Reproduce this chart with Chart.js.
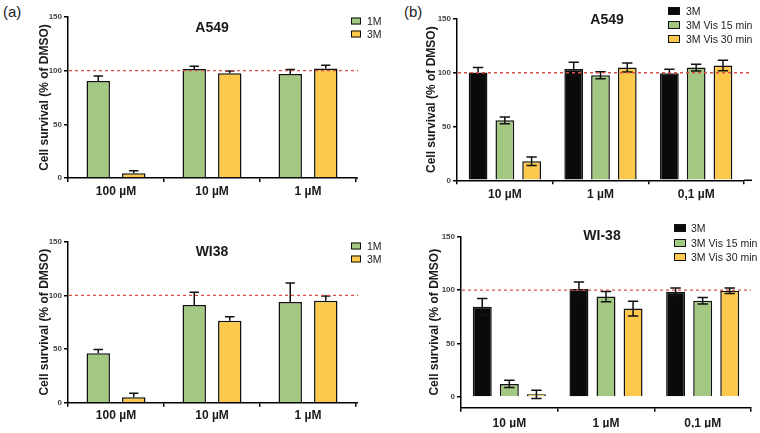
<!DOCTYPE html>
<html>
<head>
<meta charset="utf-8">
<script src="https://cdn.jsdelivr.net/npm/chart.js@4.4.1/dist/chart.umd.min.js"></script>
<style>
  html,body{margin:0;padding:0;background:#fff;}
  body{width:760px;height:433px;position:relative;overflow:hidden;font-family:"Liberation Sans",Arial,sans-serif;color:#222;}
  .panel{position:absolute;overflow:hidden;}
  .panel canvas{position:absolute;left:0;top:0;}
  .t{position:absolute;transform:translate(-50%,-50%);font-weight:bold;font-size:14px;white-space:nowrap;color:#1a1a1a;}
  .lab{position:absolute;transform:translateY(-50%);font-size:15px;color:#222;}
  .lg{position:absolute;transform:translateY(-50%);font-size:10.5px;white-space:nowrap;color:#222;}
  .box{position:absolute;transform:translateY(-50%);box-sizing:border-box;border:1.5px solid #111;}
</style>
</head>
<body>
<div class="lab" style="left:3px;top:11px;">(a)</div>
<div class="lab" style="left:404px;top:11px;">(b)</div>

<div class="panel" id="pA1" style="left:0;top:0;width:384px;height:210px;">
  <canvas id="cA1" width="380" height="210"></canvas>
  <div class="t" style="left:212px;top:27px;">A549</div>
</div>
<div class="panel" id="pA2" style="left:0;top:210px;width:384px;height:223px;">
  <canvas id="cA2" width="380" height="223"></canvas>
  <div class="t" style="left:212px;top:41px;">WI38</div>
</div>
<div class="panel" id="pB1" style="left:380px;top:0;width:380px;height:210px;">
  <canvas id="cB1" width="380" height="210"></canvas>
  <div class="t" style="left:227px;top:19px;">A549</div>
</div>
<div class="panel" id="pB2" style="left:380px;top:210px;width:380px;height:223px;">
  <canvas id="cB2" width="380" height="223"></canvas>
  <div class="t" style="left:222px;top:25px;">WI-38</div>
</div>

<script>
// ---------- DATA ----------
const catsA = ["100 \u00B5M", "10 \u00B5M", "1 \u00B5M"];
const catsB = ["10 \u00B5M", "1 \u00B5M", "0,1 \u00B5M"];
const seriesA = ["1M", "3M"];
const seriesB = ["3M", "3M Vis 15 min", "3M Vis 30 min"];
const yTitle = "Cell survival (% of DMSO)";
const yTicks = [0, 50, 100, 150];
const refValue = 100;

// Panel (a) A549
const a549_1M = [90.4, 101.6, 97.0];
const a549_1M_sd = [4.6, 2.4, 4.0];
const a549_3M = [4.4, 97.5, 102.0];
const a549_3M_sd = [2.4, 2.2, 3.0];
// Panel (a) WI38
const wi38_1M = [46.0, 91.0, 93.8];
const wi38_1M_sd = [3.6, 12.0, 17.7];
const wi38_3M = [5.0, 76.4, 95.0];
const wi38_3M_sd = [3.7, 3.6, 4.4];
// Panel (b) A549
const b_a549_3M = [100.2, 103.6, 99.5];
const b_a549_3M_sd = [4.6, 6.2, 3.8];
const b_a549_v15 = [55.8, 97.7, 104.8];
const b_a549_v15_sd = [3.1, 3.3, 3.1];
const b_a549_v30 = [17.7, 104.8, 106.7];
const b_a549_v30_sd = [4.0, 4.2, 4.9];
// Panel (b) WI-38
const b_wi38_3M = [84.4, 101.0, 98.4];
const b_wi38_3M_sd = [7.8, 6.5, 3.6];
const b_wi38_v15 = [12.2, 94.0, 90.0];
const b_wi38_v15_sd = [3.4, 4.8, 3.0];
const b_wi38_v30 = [2.5, 82.8, 99.4];
const b_wi38_v30_sd = [3.8, 6.9, 2.5];

// ---------- STYLE ----------
const GREEN = "#a3c882", YELLOW = "#fcc94d", BLACK = "#0a0a0a";
const FONT = "'Liberation Sans', Arial, sans-serif";

const errPlugin = {
  id: "errbars",
  afterDatasetsDraw(chart, args, o) {
    const ctx = chart.ctx, ys = chart.scales.y, ca = chart.chartArea;
    chart.data.datasets.forEach((ds, i) => {
      const meta = chart.getDatasetMeta(i);
      meta.data.forEach((bar, j) => {
        const v = ds.data[j], e = ds.err[j];
        const x = bar.x;
        const yt = ys.getPixelForValue(v + e);
        const yb = o.both ? ys.getPixelForValue(v - e) : bar.y;
        const cw = bar.width * o.cap;
        ctx.save();
        ctx.strokeStyle = "#111"; ctx.lineWidth = 1.5;
        ctx.beginPath();
        ctx.moveTo(x, yb); ctx.lineTo(x, yt);
        ctx.moveTo(x - cw / 2, yt); ctx.lineTo(x + cw / 2, yt);
        if (o.both) { ctx.moveTo(x - cw / 2, yb); ctx.lineTo(x + cw / 2, yb); }
        ctx.stroke();
        ctx.restore();
      });
    });
    const yr = ys.getPixelForValue(refValue);
    ctx.save();
    ctx.setLineDash([3, 3]);
    ctx.strokeStyle = "#d8504c"; ctx.lineWidth = 1.3;
    ctx.beginPath(); ctx.moveTo(ca.left + 1, yr); ctx.lineTo(ca.right + o.ext, yr); ctx.stroke();
    ctx.restore();
    if (o.ext > 0) {
      ctx.save(); ctx.strokeStyle = "#000"; ctx.lineWidth = 1.5;
      ctx.beginPath(); ctx.moveTo(ca.right, ca.bottom); ctx.lineTo(ca.right + o.ext, ca.bottom); ctx.stroke();
      ctx.restore();
    }
  }
};

function makePanel(id, cfg) {
  const datasets = cfg.series.map((s, i) => ({
    label: s,
    data: cfg.values[i],
    err: cfg.errs[i],
    backgroundColor: cfg.colors[i],
    borderColor: "#111",
    borderWidth: 1.5,
    categoryPercentage: cfg.catPct,
    barPercentage: cfg.barPct
  }));
  new Chart(document.getElementById(id), {
    type: "bar",
    data: { labels: cfg.labels, datasets },
    plugins: [errPlugin],
    options: {
      responsive: false,
      animation: false,
      layout: { padding: cfg.pad },
      plugins: {
        legend: { display: false },
        tooltip: { enabled: false },
        errbars: { both: cfg.both, cap: cfg.cap, ext: cfg.ext }
      },
      scales: {
        x: {
          grid: { display: true, drawOnChartArea: false, drawTicks: true, tickLength: 4, color: "#000", lineWidth: 1.5 },
          border: { display: true, color: "#000", width: 1.5 },
          ticks: { font: { family: FONT, size: 12, weight: "bold" }, color: "#1a1a1a", padding: cfg.xPad, maxRotation: 0 },
          afterFit: s => { s.height = 20; }
        },
        y: {
          min: cfg.yMin, max: 150,
          afterBuildTicks: s => { s.ticks = yTicks.map(v => ({ value: v })); },
          grid: { display: true, drawOnChartArea: false, drawTicks: true, tickLength: 4, color: "#000", lineWidth: 1.5 },
          border: { display: true, color: "#000", width: 1.5 },
          ticks: { font: { family: FONT, size: 8, weight: "bold" }, color: "#444", padding: 2 },
          title: { display: true, text: yTitle, font: { family: FONT, size: 12, weight: "bold" }, color: "#1a1a1a", padding: 0 },
          afterFit: s => { s.width = cfg.yW; }
        }
      }
    }
  });
}

makePanel("cA1", {
  labels: catsA, series: seriesA, colors: [GREEN, YELLOW],
  values: [a549_1M, a549_3M], errs: [a549_1M_sd, a549_3M_sd],
  catPct: 0.74, barPct: 0.66, both: false, cap: 0.4, ext: 2, yMin: 0,
  pad: { left: 37, right: 24, top: 17, bottom: 12 }, yW: 31, xPad: 2
});
makePanel("cA2", {
  labels: catsA, series: seriesA, colors: [GREEN, YELLOW],
  values: [wi38_1M, wi38_3M], errs: [wi38_1M_sd, wi38_3M_sd],
  catPct: 0.74, barPct: 0.66, both: false, cap: 0.4, ext: 2, yMin: 0,
  pad: { left: 37, right: 24, top: 31.7, bottom: 10.3 }, yW: 31, xPad: 2
});
makePanel("cB1", {
  labels: catsB, series: seriesB, colors: [BLACK, GREEN, YELLOW],
  values: [b_a549_3M, b_a549_v15, b_a549_v30], errs: [b_a549_3M_sd, b_a549_v15_sd, b_a549_v30_sd],
  catPct: 0.84, barPct: 0.70, both: true, cap: 0.55, ext: 8, yMin: 0,
  pad: { left: 44, right: 16, top: 19, bottom: 9.7 }, yW: 33, xPad: 3
});
makePanel("cB2", {
  labels: catsB, series: seriesB, colors: [BLACK, GREEN, YELLOW],
  values: [b_wi38_3M, b_wi38_v15, b_wi38_v30], errs: [b_wi38_3M_sd, b_wi38_v15_sd, b_wi38_v30_sd],
  catPct: 0.84, barPct: 0.70, both: true, cap: 0.55, ext: 0, yMin: -10,
  pad: { left: 47, right: 9, top: 26.7, bottom: 5.3 }, yW: 34, xPad: 5
});

// ---------- LEGENDS (HTML) ----------
function legend(panelId, names, colors, boxLeft, textLeft, rows, bw, bh) {
  const p = document.getElementById(panelId);
  names.forEach((n, i) => {
    const b = document.createElement("div");
    b.className = "box";
    b.style.cssText = `left:${boxLeft}px;top:${rows[i]}px;width:${bw}px;height:${bh}px;background:${colors[i]};`;
    p.appendChild(b);
    const t = document.createElement("div");
    t.className = "lg";
    t.style.cssText = `left:${textLeft}px;top:${rows[i]}px;`;
    t.textContent = n;
    p.appendChild(t);
  });
}
legend("pA1", seriesA, [GREEN, YELLOW], 351, 367, [21, 34], 10, 7);
legend("pA2", seriesA, [GREEN, YELLOW], 351, 367, [36, 49], 10, 7);
legend("pB1", seriesB, [BLACK, GREEN, YELLOW], 288, 306, [10.5, 24.5, 38.5], 12, 8);
legend("pB2", seriesB, [BLACK, GREEN, YELLOW], 294, 311, [18, 33, 47], 12, 8);
</script>
</body>
</html>
